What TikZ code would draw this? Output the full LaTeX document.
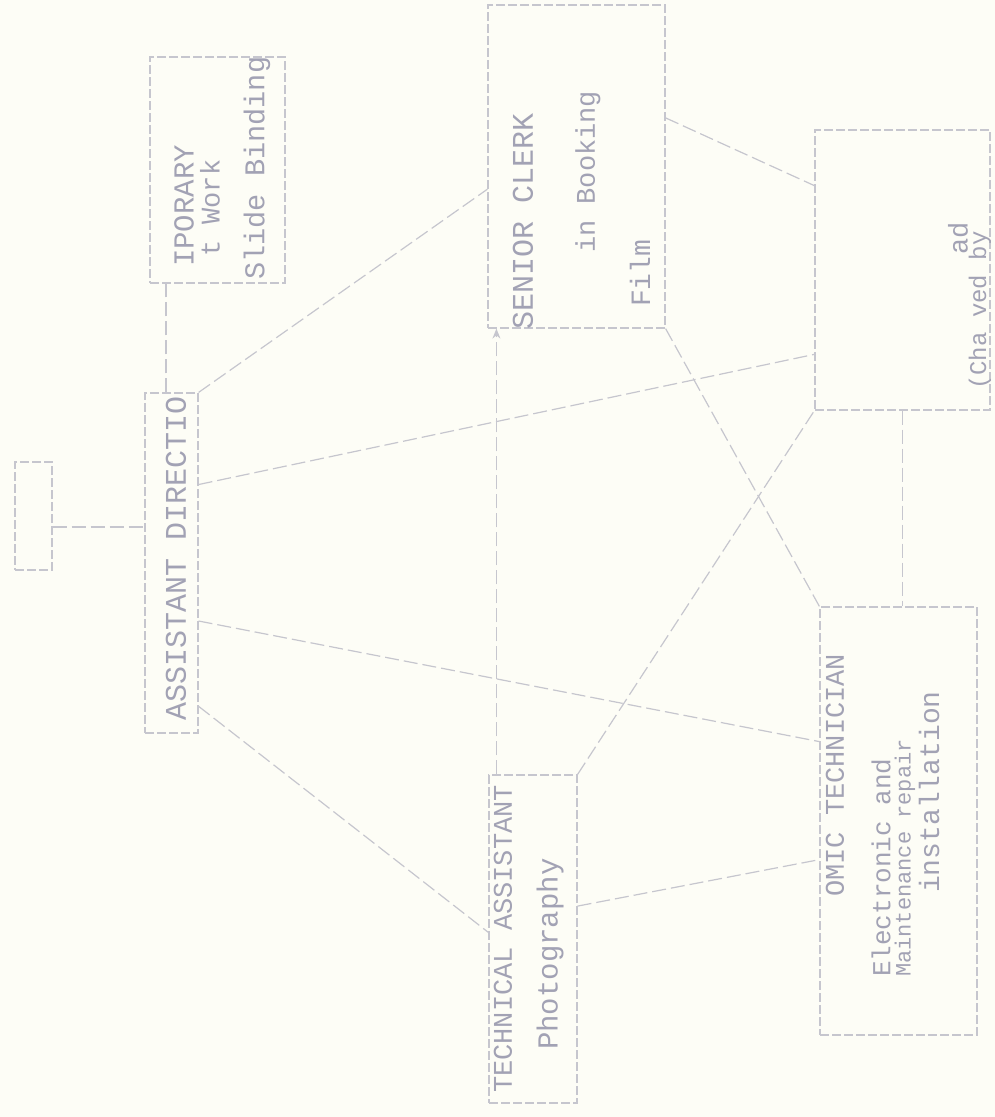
\documentclass[tikz,border=0pt]{standalone}
\usepackage{fontspec}
\setmonofont{Liberation Mono}
\usetikzlibrary{calc,arrows.meta}
\definecolor{paper}{RGB}{253,253,246}
\definecolor{ink}{RGB}{162,162,180}
\definecolor{rulec}{RGB}{198,198,206}
\begin{document}
\begin{tikzpicture}[x=1pt,y=-1pt,
  box/.style={draw=rulec, line width=1.2pt, dash pattern=on 9pt off 3pt, rectangle, inner sep=0pt},
  lbl/.style={rotate=90, anchor=west, inner sep=0pt, text=ink, font=\fontsize{28}{28}\selectfont\ttfamily},
  fs/.style={font=\fontsize{#1}{#1}\selectfont\ttfamily},
  link/.style={draw=rulec, line width=1.2pt, dash pattern=on 14pt off 5pt}]
\fill[paper] (0,0) rectangle (995,1117);
\useasboundingbox (0,0) rectangle (995,1117);

% boxes
\node[box, minimum width=37pt,  minimum height=108pt] (small) at (33.5,516) {};
\node[box, minimum width=53pt,  minimum height=340pt] (ad)    at (171.5,563) {};
\node[box, minimum width=135pt, minimum height=226pt] (temp)  at (217.5,170) {};
\node[box, minimum width=177pt, minimum height=323pt] (clerk) at (576.5,166.5) {};
\node[box, minimum width=175pt, minimum height=280pt] (right) at (902.5,270) {};
\node[box, minimum width=157pt, minimum height=428pt] (omic)  at (898.5,821) {};
\node[box, minimum width=88pt,  minimum height=328pt] (tech)  at (533,939) {};

% texts
\node[lbl, fs=30] (tad) at (176,721) {ASSISTANT DIRECTIO};
\node[lbl, fs=29] (tt1) at (184,267) {IPORARY};
\node[lbl, fs=27] (tt2) at (210,257) {t Work};
\node[lbl, fs=28.6] (tt3) at (257,280) {Slide Binding};
\node[lbl, fs=30] (tc1) at (523,330) {SENIOR CLERK};
\node[lbl, fs=27] (tc2) at (588,253) {in Booking};
\node[lbl, fs=28] (tc3) at (640,307) {Film};
\node[lbl, fs=27] (to1) at (835,897) {OMIC TECHNICIAN};
\node[lbl, fs=26] (to2) at (881,977) {Electronic and};
\node[lbl, fs=22] (to3) at (905,977) {Maintenance repair};
\node[lbl, fs=28] (to4) at (929,893) {installation};
\node[lbl, fs=27] (tt1a) at (503,1093) {TECHNICAL ASSISTANT};
\node[lbl, fs=29] (tt2a) at (550,1050) {Photography};
\node[lbl, fs=27] (tr1) at (958,255) {ad};
\node[lbl, fs=24] (tr2) at (980,390) {(Cha ved by};

% connectors
\coordinate (s1) at ($(small.north east)!0.6!(small.south east)$);
\draw[link] (s1) -- (s1 -| ad.west);
\coordinate (a2) at ($(ad.north west)!0.4!(ad.north east)$);
\draw[link] (a2) -- (a2 |- temp.south);
\draw[link] (ad.north east) -- ($(clerk.north west)!0.57!(clerk.south west)$);
\draw[link] ($(ad.north east)!0.27!(ad.south east)$) -- ($(right.north west)!0.80!(right.south west)$);
\draw[link] ($(ad.north east)!0.67!(ad.south east)$) -- ($(omic.north west)!0.315!(omic.south west)$);
\draw[link] ($(ad.north east)!0.92!(ad.south east)$) -- ($(tech.north west)!0.48!(tech.south west)$);
\coordinate (t7) at ($(tech.north west)!0.09!(tech.north east)$);
\draw[link, -{Stealth[length=10pt,width=8pt]}] (t7) -- (t7 |- clerk.south);
\draw[link] ($(tech.north east)!0.4!(tech.south east)$) -- ($(omic.north west)!0.59!(omic.south west)$);
\draw[link] (tech.north east) -- (right.south west);
\draw[link] (clerk.south east) -- (omic.north west);
\draw[link] ($(clerk.north east)!0.35!(clerk.south east)$) -- ($(right.north west)!0.2!(right.south west)$);
\draw[link] (right.south) -- (right.south |- omic.north);
\end{tikzpicture}
\end{document}
